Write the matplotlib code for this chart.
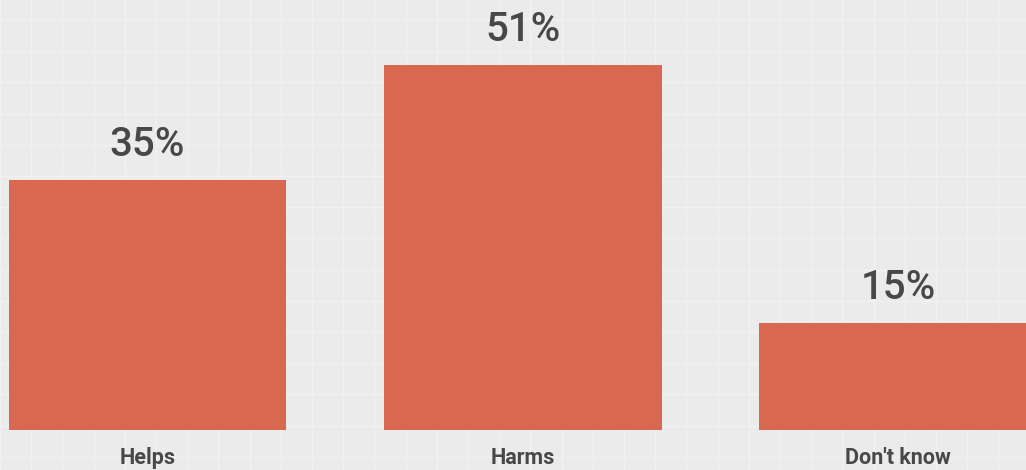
import numpy as np
import matplotlib.pyplot as plt

categories = ['Helps', 'Harms', "Don't know"]
values = [35, 51, 15]
labels = ['35%', '51%', '15%']

bar_color = '#d8684f'
text_color = '#484848'
bg_color = '#ebebeb'

fig = plt.figure(figsize=(10.26, 4.70), dpi=100)
fig.patch.set_facecolor(bg_color)

# faint grid paper in the background
bg = fig.add_axes([0, 0, 1, 1], zorder=0)
bg.set_facecolor(bg_color)
bg.set_xlim(0, 1026)
bg.set_ylim(470, 0)
for xg in np.arange(0, 1026, 31.2):
    bg.axvline(xg, color='#f1f1f1', lw=1.0)
for yg in np.arange(20, 470, 31.2):
    bg.axhline(yg, color='#f1f1f1', lw=1.0)
bg.axis('off')

ax = fig.add_axes([0, 0, 1, 1], zorder=1)
ax.patch.set_alpha(0)
x = np.arange(len(categories))
ax.bar(x, values, width=0.74, color=bar_color)
ax.set_xlim(-0.393, 2.34)
ax.set_ylim(-5.6, 60.1)

for xi, v, lab in zip(x, values, labels):
    ax.text(xi, v + 2.2, lab, ha='center', va='bottom', fontsize=29,
            color=text_color, family='Roboto', fontweight='medium')

for xi, c in zip(x, categories):
    ax.text(xi, -2.4, c, ha='center', va='top', fontsize=15.5,
            color=text_color, family='Roboto', fontweight='bold')

ax.axis('off')
fig.savefig('out.png', dpi=100, facecolor=bg_color)
